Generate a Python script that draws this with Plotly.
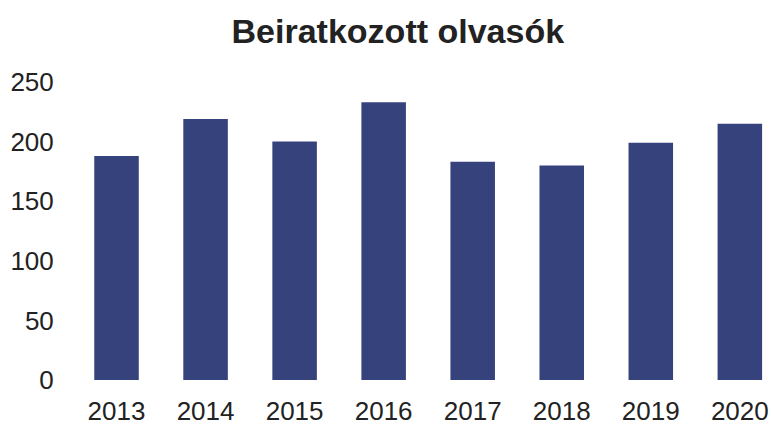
import plotly.graph_objects as go

years = ["2013", "2014", "2015", "2016", "2017", "2018", "2019", "2020"]
readers = [188, 219, 200, 233, 183, 180, 199, 215]
y_ticks = [0, 50, 100, 150, 200, 250]

fig = go.Figure(go.Bar(
    x=years, y=readers,
    marker=dict(color="#36427C", line=dict(width=0)),
))

fig.update_layout(
    width=771, height=426,
    margin=dict(l=72, r=0, t=82, b=43),
    paper_bgcolor="white", plot_bgcolor="white",
    bargap=0.5,
    showlegend=False,
    title=dict(text="<b>Beiratkozott olvasók</b>", xref="container", yref="container",
               x=0.516, y=0.927, xanchor="center", yanchor="middle",
               font=dict(family="Liberation Sans, Arial", size=34, color="#222222")),
    font=dict(family="Liberation Sans, Arial", size=26, color="#222222"),
)
fig.update_xaxes(type="category", range=[-0.5, 7.35], showgrid=False, showline=False,
                 ticks="outside", ticklen=8, tickcolor="white", tickfont=dict(size=26))
fig.update_yaxes(range=[0, 250], tickvals=y_ticks, showgrid=False, showline=False,
                 zeroline=False, ticks="outside", ticklen=12, tickcolor="white",
                 tickfont=dict(size=26))

fig.write_html("out.html", config={"displayModeBar": False},
               post_script="document.body.style.margin='0';document.body.style.overflow='hidden';")
